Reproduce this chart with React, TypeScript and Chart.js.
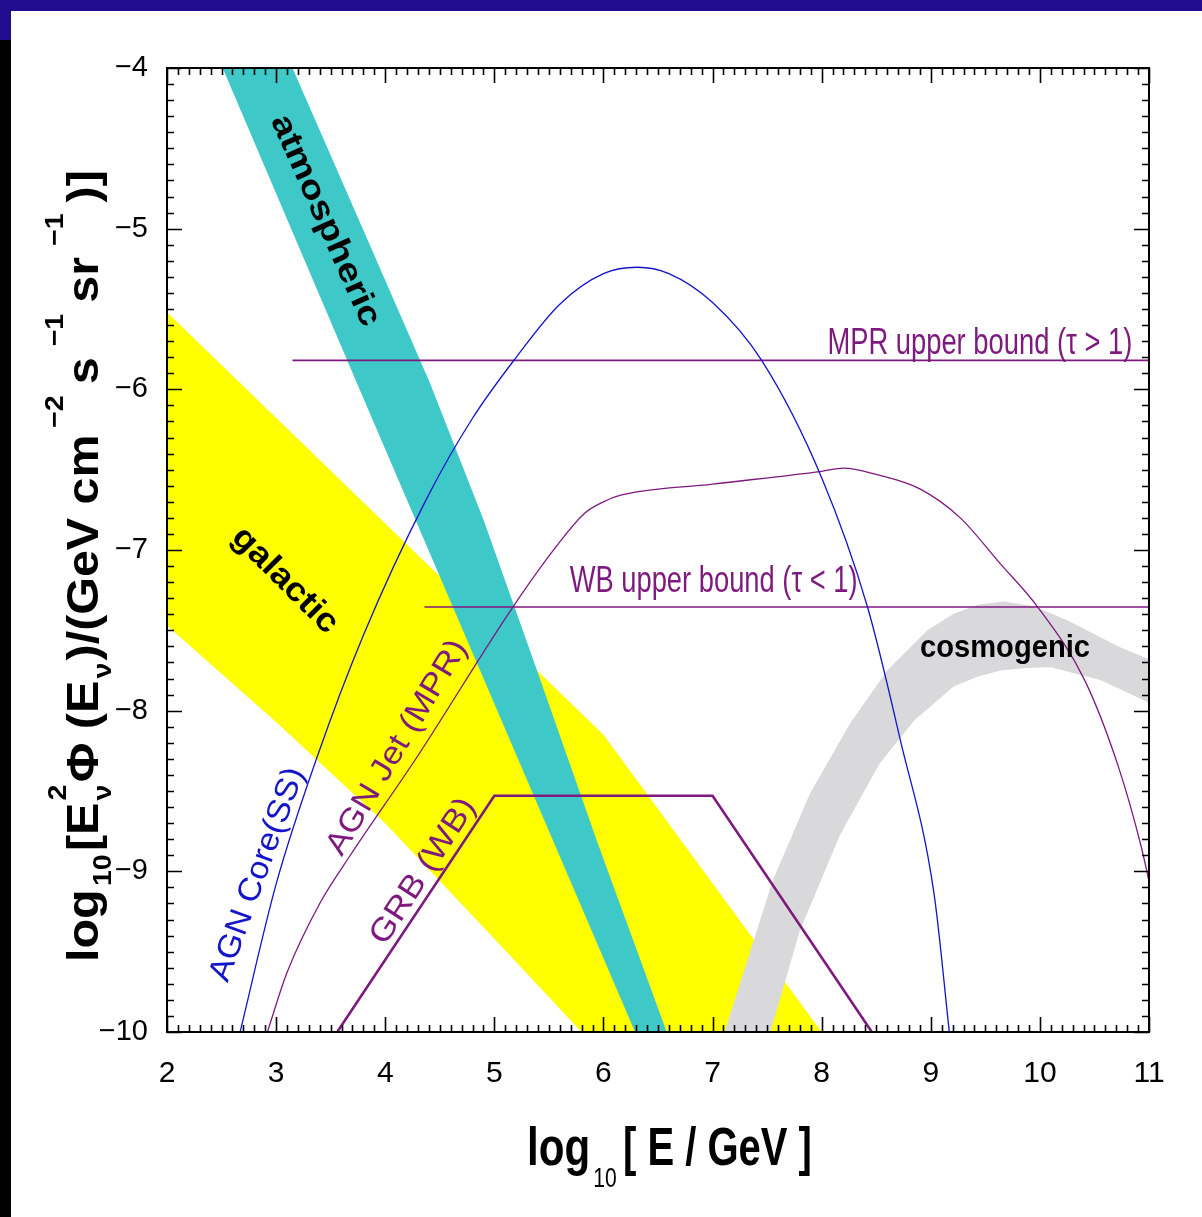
import { useEffect, useRef } from 'react';
import { Chart, registerables } from 'chart.js';
Chart.register(...registerables);

// ---------- data (log10 E/GeV , log10 flux) ----------
const xTicks = [2, 3, 4, 5, 6, 7, 8, 9, 10, 11];
const yTicks = [-10, -9, -8, -7, -6, -5, -4];

const galacticUpperX = [2, 6.0, 8.0];
const galacticUpperY = [-5.52, -8.15, -10];
const galacticLowerX = [2, 3, 4, 5, 5.8];
const galacticLowerY = [-7.47, -8.07, -8.7, -9.42, -10];

const atmosLeftX = [2.51, 3.74, 6.29];
const atmosLeftY = [-4, -5.96, -10];
const atmosRightX = [3.15, 3.8, 4.41, 4.9, 5.35, 5.95, 6.58];
const atmosRightY = [-4, -5.01, -5.96, -6.81, -7.67, -8.83, -10];

const cosmoOuterX = [7.11, 7.55, 7.89, 8.26, 8.6, 8.97, 9.2, 9.43, 9.67, 9.95, 10.26, 10.72, 11.0];
const cosmoOuterY = [-10, -9.06, -8.52, -8.08, -7.75, -7.5, -7.4, -7.34, -7.32, -7.35, -7.44, -7.6, -7.68];
const cosmoInnerX = [7.53, 7.8, 8.17, 8.53, 8.85, 9.21, 9.42, 9.64, 9.87, 10.1, 10.56, 11.0];
const cosmoInnerY = [-10, -9.37, -8.77, -8.33, -8.06, -7.85, -7.79, -7.75, -7.735, -7.73, -7.81, -7.95];

const agnCoreX = [2.67, 3.0, 3.375, 3.8, 4.38, 4.8, 5.19, 5.6, 6.0, 6.31, 6.6, 7.0, 7.45, 8.0, 8.42, 8.72, 9.03, 9.17];
const agnCoreY = [-10, -9.08, -8.29, -7.53, -6.68, -6.18, -5.81, -5.47, -5.28, -5.24, -5.28, -5.46, -5.82, -6.55, -7.355, -8.18, -9.14, -10];

const agnJetX = [2.92, 3.1, 3.4, 3.68, 4.29, 5.17, 5.6, 5.83, 6.0, 6.15, 7.0, 8.0, 8.2, 8.5, 8.9, 9.27, 9.63, 9.98, 10.41, 10.72, 10.93, 11.0];
const agnJetY = [-10, -9.63, -9.2, -8.9, -8.29, -7.355, -6.95, -6.77, -6.7, -6.66, -6.59, -6.51, -6.49, -6.53, -6.62, -6.8, -7.08, -7.355, -7.81, -8.35, -8.85, -9.06];

const grbX = [3.56, 5.0, 7.0, 8.46];
const grbY = [-10, -8.53, -8.53, -10];

const mprBoundX = [3.15, 11];
const mprBoundY = [-5.82, -5.82];
const wbBoundX = [4.36, 11];
const wbBoundY = [-7.355, -7.355];

const pts = (xs: number[], ys: number[]) => xs.map((x, i) => ({ x, y: ys[i] }));
const band = (ax: number[], ay: number[], bx: number[], by: number[]) =>
  pts(ax, ay).concat(pts(bx, by).reverse());

// ---------- styling ----------
const FONT = "'Liberation Sans', Arial, Helvetica, sans-serif";
const PURPLE = '#7e1a7e';
const BLUE = '#1414c8';

type Lbl = { text: string; x: number; y: number; angle: number; size: number; width: number; bold: boolean; color: string };
const inPlotLabels: Lbl[] = [
  { text: 'atmospheric', x: 3.45, y: -4.95, angle: 66, size: 33, width: 228, bold: true, color: '#000' },
  { text: 'galactic', x: 3.08, y: -7.19, angle: 45, size: 33, width: 136, bold: true, color: '#000' },
  { text: 'cosmogenic', x: 9.68, y: -7.61, angle: 0, size: 31, width: 170, bold: true, color: '#000' },
  { text: 'MPR upper bound (\u03c4 > 1)', x: 9.45, y: -5.72, angle: 0, size: 36, width: 305, bold: false, color: PURPLE },
  { text: 'WB upper bound (\u03c4 < 1)', x: 7.01, y: -7.2, angle: 0, size: 36, width: 288, bold: false, color: PURPLE },
  { text: 'AGN Core(SS)', x: 2.83, y: -9.02, angle: -70, size: 32, width: 225, bold: false, color: BLUE },
  { text: 'AGN Jet (MPR)', x: 4.11, y: -8.23, angle: -59, size: 32, width: 245, bold: false, color: PURPLE },
  { text: 'GRB (WB)', x: 4.35, y: -9.0, angle: -57, size: 32, width: 168, bold: false, color: PURPLE },
];

function drawFitted(ctx: CanvasRenderingContext2D, text: string, px: number, py: number, angleDeg: number,
  size: number, width: number, bold: boolean, color: string) {
  ctx.save();
  ctx.font = `${bold ? 'bold ' : ''}${size}px ${FONT}`;
  const w = ctx.measureText(text).width;
  ctx.translate(px, py);
  ctx.rotate((angleDeg * Math.PI) / 180);
  ctx.scale(width / w, 1);
  ctx.fillStyle = color;
  ctx.textAlign = 'center';
  ctx.textBaseline = 'middle';
  ctx.fillText(text, 0, 0);
  ctx.restore();
}

type Seg = { t: string; kind: 'n' | 'sub' | 'sup' | 'subsup'; sup?: string; gap?: number };

function drawRich(ctx: CanvasRenderingContext2D, segs: Seg[], size: number) {
  let x = 0;
  const big = `bold ${size}px ${FONT}`;
  const small = `bold ${Math.round(size * 0.6)}px ${FONT}`;
  for (const s of segs) {
    const g = s.gap || 0;
    x += g;
    if (s.kind === 'n') {
      ctx.font = big;
      ctx.fillText(s.t, x, 0);
      x += ctx.measureText(s.t).width;
    } else if (s.kind === 'sub') {
      ctx.font = small;
      ctx.fillText(s.t, x, size * 0.3);
      x += ctx.measureText(s.t).width;
    } else if (s.kind === 'sup') {
      ctx.font = small;
      ctx.fillText(s.t, x, -size * 0.8);
      x += ctx.measureText(s.t).width;
    } else {
      ctx.font = small;
      const w1 = ctx.measureText(s.t).width;
      const w2 = ctx.measureText(s.sup || '').width;
      ctx.fillText(s.t, x, size * 0.3);
      ctx.fillText(s.sup || '', x, -size * 0.72);
      x += Math.max(w1, w2);
    }
    x += g;
  }
  return x;
}

const framePlugin = {
  id: 'frameAndText',
  afterDatasetsDraw(chart: any) {
    const ctx: CanvasRenderingContext2D = chart.ctx;
    const { left, right, top, bottom } = chart.chartArea;
    const xs = chart.scales.x;
    const ys = chart.scales.y;
    ctx.save();
    for (const l of inPlotLabels) {
      drawFitted(ctx, l.text, xs.getPixelForValue(l.x), ys.getPixelForValue(l.y), l.angle, l.size, l.width, l.bold, l.color);
    }
    // frame with inward ticks on all sides
    ctx.strokeStyle = '#000';
    ctx.lineWidth = 2;
    ctx.strokeRect(left, top, right - left, bottom - top);
    ctx.lineWidth = 1.6;
    ctx.beginPath();
    const xMin = xTicks[0], xMax = xTicks[xTicks.length - 1];
    for (let i = 0; i <= (xMax - xMin) * 10; i++) {
      const v = xMin + i / 10;
      const len = i % 10 === 0 ? 15 : 7;
      const p = Math.round(xs.getPixelForValue(v)) + 0.5;
      ctx.moveTo(p, bottom); ctx.lineTo(p, bottom - len);
      ctx.moveTo(p, top); ctx.lineTo(p, top + len);
    }
    const yMin = yTicks[0], yMax = yTicks[yTicks.length - 1];
    for (let i = 0; i <= (yMax - yMin) * 10; i++) {
      const v = yMin + i / 10;
      const len = i % 10 === 0 ? 15 : 7;
      const p = Math.round(ys.getPixelForValue(v)) + 0.5;
      ctx.moveTo(left, p); ctx.lineTo(left + len, p);
      ctx.moveTo(right, p); ctx.lineTo(right - len, p);
    }
    ctx.stroke();

    // x axis title
    ctx.fillStyle = '#000';
    ctx.textBaseline = 'alphabetic';
    ctx.textAlign = 'left';
    ctx.save();
    ctx.translate(527, 1165);
    ctx.scale(0.78, 1);
    ctx.font = `bold 54px ${FONT}`;
    ctx.fillText('log', 0, 0);
    let w = ctx.measureText('log').width;
    ctx.font = `27px ${FONT}`;
    ctx.fillText('10', w + 4, 22);
    w += ctx.measureText('10').width + 12;
    ctx.font = `bold 54px ${FONT}`;
    ctx.save();
    ctx.translate(w, 0);
    ctx.scale(0.95, 1);
    ctx.fillText('[ E / GeV ]', 0, 0);
    ctx.restore();
    ctx.restore();

    // y axis title (rotated)
    ctx.save();
    ctx.translate(98, 962);
    ctx.rotate(-Math.PI / 2);
    ctx.scale(1.1, 1);
    drawRich(ctx, [
      { t: 'log', kind: 'n' },
      { t: '10', kind: 'sub', gap: 3 },
      { t: '[E', kind: 'n' },
      { t: '\u03bd', kind: 'subsup', sup: '2', gap: 2 },
      { t: '\u03a6 (E', kind: 'n' },
      { t: '\u03bd', kind: 'sub', gap: 2 },
      { t: ')/(GeV cm', kind: 'n' },
      { t: '\u22122', kind: 'sup', gap: 6 },
      { t: 's', kind: 'n', gap: 4 },
      { t: '\u22121', kind: 'sup', gap: 6 },
      { t: 'sr', kind: 'n', gap: 4 },
      { t: '\u22121', kind: 'sup', gap: 6 },
      { t: ')]', kind: 'n', gap: 4 },
    ], 44);
    ctx.restore();
    ctx.restore();
  },
};

export default function App() {
  const ref = useRef<HTMLCanvasElement>(null);
  useEffect(() => {
    document.body.style.margin = '0';
    const bandDs = (data: any[], color: string, order: number) => ({
      data, showLine: true, fill: 'shape', backgroundColor: color, borderWidth: 0,
      borderColor: 'transparent', pointRadius: 0, tension: 0, order, clip: 0,
    });
    const lineDs = (data: any[], color: string, width: number, smooth: boolean) => ({
      data, showLine: true, fill: false, borderColor: color, borderWidth: width, pointRadius: 0,
      cubicInterpolationMode: smooth ? 'monotone' : 'default', tension: smooth ? 0.4 : 0, order: 1, clip: 0,
    });
    const chart = new Chart(ref.current!, {
      type: 'scatter',
      data: {
        datasets: [
          lineDs(pts(agnCoreX, agnCoreY), BLUE, 1.3, true),
          lineDs(pts(agnJetX, agnJetY), PURPLE, 1.3, true),
          lineDs(pts(grbX, grbY), PURPLE, 2.6, false),
          lineDs(pts(mprBoundX, mprBoundY), PURPLE, 1.6, false),
          lineDs(pts(wbBoundX, wbBoundY), PURPLE, 1.6, false),
          bandDs(band(cosmoOuterX, cosmoOuterY, cosmoInnerX, cosmoInnerY), '#d9d9dc', 5),
          bandDs(band(atmosLeftX, atmosLeftY, atmosRightX, atmosRightY), '#3ec8c8', 6),
          bandDs(band(galacticUpperX, galacticUpperY, galacticLowerX, galacticLowerY), '#ffff00', 7),
        ] as any,
      },
      options: {
        animation: false,
        responsive: false,
        events: [],
        layout: { padding: { left: 0, top: 68, right: 53, bottom: 0 } },
        plugins: { legend: { display: false }, tooltip: { enabled: false } },
        scales: {
          x: {
            type: 'linear', min: 2, max: 11,
            afterBuildTicks: (s: any) => { s.ticks = xTicks.map((v) => ({ value: v })); },
            afterFit: (s: any) => { s.height = 185; },
            grid: { display: false, drawTicks: false },
            border: { display: false },
            ticks: { color: '#000', font: { family: FONT, size: 30 }, padding: 24, maxRotation: 0, autoSkip: false },
          },
          y: {
            type: 'linear', min: -10, max: -4,
            afterBuildTicks: (s: any) => { s.ticks = yTicks.map((v) => ({ value: v })); },
            afterFit: (s: any) => { s.width = 167; },
            grid: { display: false, drawTicks: false },
            border: { display: false },
            ticks: {
              color: '#000', font: { family: FONT, size: 29 }, padding: 19, autoSkip: false,
              callback: (v: any) => String(v).replace('-', '\u2212'),
            },
          },
        },
      },
      plugins: [framePlugin],
    } as any);
    return () => chart.destroy();
  }, []);
  return (
    <div style={{ position: 'relative', width: 1202, height: 1217, background: '#fff', overflow: 'hidden' }}>
      <canvas ref={ref} width={1202} height={1217} style={{ position: 'absolute', left: 0, top: 0 }} />
      <div style={{ position: 'absolute', left: 0, top: 0, width: 1202, height: 11, background: '#200c8c' }} />
      <div style={{ position: 'absolute', left: 0, top: 0, width: 11, height: 40, background: '#200c8c' }} />
      <div style={{ position: 'absolute', left: 0, top: 40, width: 11, height: 1177, background: '#000' }} />
    </div>
  );
}
